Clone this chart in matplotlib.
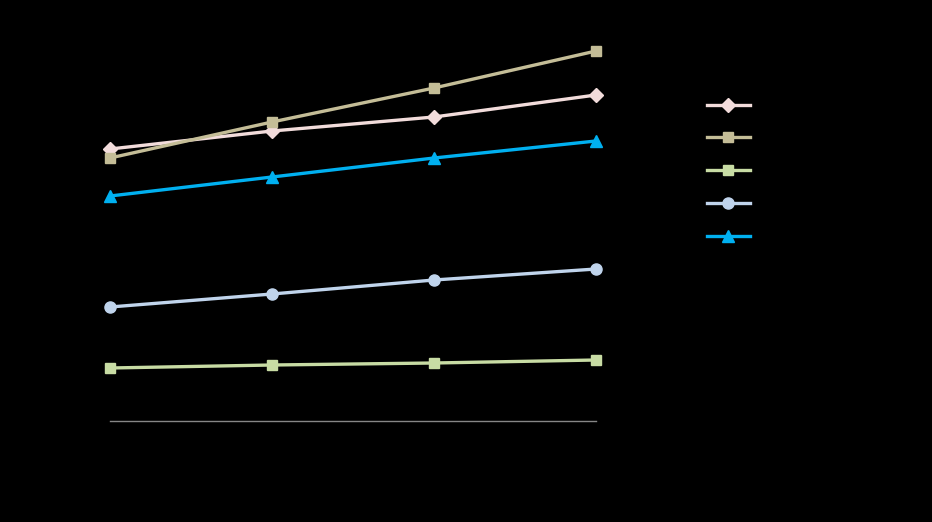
import matplotlib.pyplot as plt

# values (baseline = 0, arbitrary units)
x = [0, 1, 2, 3]
pink_vals = [272, 290, 304, 326]
tan_vals = [263, 299, 333, 370]
green_vals = [53, 56, 58, 61]
lightblue_vals = [114, 127, 141, 152]
blue_vals = [225, 244, 263, 280]

series = [
    (pink_vals, '#F2DCDB', 'D', 7),
    (tan_vals, '#C4BD97', 's', 7.5),
    (green_vals, '#C8DCA4', 's', 7.5),
    (lightblue_vals, '#C0D4EC', 'o', 8),
    (blue_vals, '#00B0F0', '^', 8),
]

fig = plt.figure(figsize=(9.32, 5.22), dpi=100, facecolor='black')
ax = fig.add_axes([110 / 932, 101 / 522, 486 / 932, 381 / 522])
ax.set_facecolor('black')

handles = []
for vals, col, mk, ms in series:
    h, = ax.plot(x, vals, color=col, linewidth=2.4, marker=mk, markersize=ms,
                 markeredgecolor=col, markerfacecolor=col, clip_on=False)
    handles.append(h)

ax.set_xlim(0, 3)
ax.set_ylim(0, 381)
ax.set_xticks([])
ax.set_yticks([])
for s in ['top', 'right', 'left']:
    ax.spines[s].set_visible(False)
ax.spines['bottom'].set_color('#868686')
ax.spines['bottom'].set_linewidth(1)

fig.legend(handles, [''] * 5, loc='center', bbox_to_anchor=(734 / 932, 1 - 171 / 522),
           frameon=False, handlelength=3.1, labelspacing=1.35, fontsize=10)

fig.savefig('out.png', dpi=100, facecolor='black')
